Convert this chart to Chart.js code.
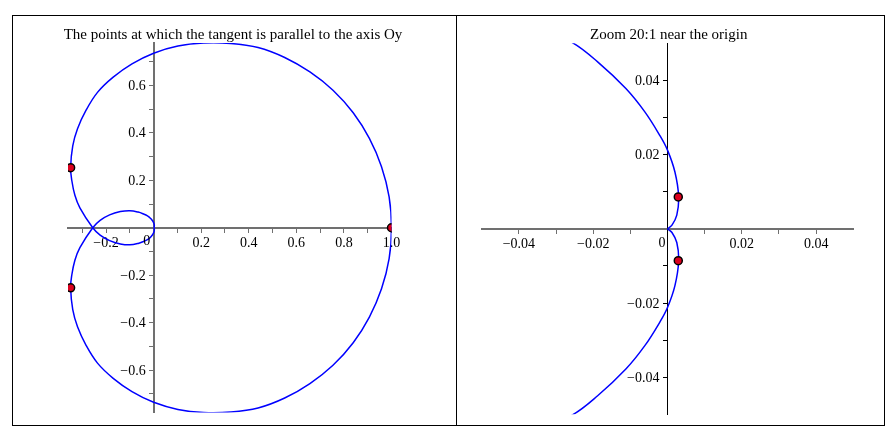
<!DOCTYPE html>
<html><head><meta charset="utf-8">
<script src="https://cdn.jsdelivr.net/npm/chart.js@4.4.1/dist/chart.umd.min.js"></script>
<style>
html,body{margin:0;padding:0;background:#fff;}
body{width:886px;height:435px;position:relative;overflow:hidden;}
.panel{position:absolute;top:15px;border:1px solid #000;height:409px;}
#p1{left:12px;width:443px;}
#p2{left:456px;width:427px;}
canvas{display:block;}
</style></head><body>
<div class="panel" id="p1"><canvas id="c1" width="443" height="409"></canvas></div>
<div class="panel" id="p2"><canvas id="c2" width="427" height="409"></canvas></div>
<script>
// ---- curve, in drawing order ----
// inner loop, upper arc: origin -> self-crossing
const innerUpperX = [0, 0.0012, 0.0025, 0.0030, 0.0020, 0, -0.0021, -0.0061, -0.0112, -0.0188, -0.0258, -0.040, -0.065, -0.100, -0.140, -0.185, -0.225, -0.256];
const innerUpperY = [0, 0.0010, 0.0037, 0.0086, 0.0153, 0.0212, 0.0252, 0.0315, 0.0378, 0.0450, 0.0503, 0.057, 0.066, 0.072, 0.068, 0.054, 0.031, 0];
// outer loop, lower half: crossing -> (1,0)
const outerLowerX = [-0.310, -0.331, -0.344, -0.349, -0.340, -0.320, -0.284, -0.236, -0.170, -0.091, 0.000, 0.102, 0.210, 0.324, 0.439, 0.551, 0.657, 0.754, 0.839, 0.907, 0.958, 0.990, 1.000];
const outerLowerY = [-0.084, -0.137, -0.199, -0.253, -0.345, -0.417, -0.495, -0.570, -0.634, -0.690, -0.735, -0.765, -0.778, -0.776, -0.759, -0.717, -0.656, -0.579, -0.484, -0.376, -0.257, -0.130, 0];
// outer loop, upper half: (1,0) -> crossing
const outerUpperX = [0.990, 0.958, 0.907, 0.839, 0.754, 0.657, 0.551, 0.439, 0.324, 0.210, 0.102, 0.000, -0.091, -0.170, -0.236, -0.284, -0.320, -0.340, -0.349, -0.344, -0.331, -0.310, -0.256];
const outerUpperY = [0.130, 0.257, 0.376, 0.484, 0.579, 0.656, 0.717, 0.759, 0.776, 0.778, 0.765, 0.735, 0.690, 0.634, 0.570, 0.495, 0.417, 0.345, 0.253, 0.199, 0.137, 0.084, 0];
// inner loop, lower arc: crossing -> origin
const innerLowerX = [-0.225, -0.185, -0.140, -0.100, -0.065, -0.040, -0.0258, -0.0188, -0.0112, -0.0061, -0.0021, 0, 0.0020, 0.0030, 0.0025, 0.0012, 0];
const innerLowerY = [-0.031, -0.054, -0.068, -0.072, -0.066, -0.057, -0.0503, -0.0450, -0.0378, -0.0315, -0.0252, -0.0212, -0.0153, -0.0086, -0.0037, -0.0010, 0];

// points with vertical tangent
const markerX = [-0.349, -0.349, 1.0];
const markerY = [0.253, -0.253, 0];
const zoomMarkerX = [0.0029, 0.0029];
const zoomMarkerY = [0.0086, -0.0086];

// ticks
const leftXTicks  = [-0.3, -0.2, -0.1, 0.1, 0.2, 0.3, 0.4, 0.5, 0.6, 0.7, 0.8, 0.9, 1.0];
const leftXLabels = ['', '\u22120.2', '', '', '0.2', '', '0.4', '', '0.6', '', '0.8', '', '1.0'];
const leftYTicks  = [-0.7, -0.6, -0.5, -0.4, -0.3, -0.2, -0.1, 0.1, 0.2, 0.3, 0.4, 0.5, 0.6, 0.7];
const leftYLabels = ['', '\u22120.6', '', '\u22120.4', '', '\u22120.2', '', '', '0.2', '', '0.4', '', '0.6', ''];
const rightTicks  = [-0.04, -0.03, -0.02, -0.01, 0.01, 0.02, 0.03, 0.04];
const rightLabels = ['\u22120.04', '', '\u22120.02', '', '', '0.02', '', '0.04'];

const titles = ['The points at which the tangent is parallel to the axis Oy', 'Zoom 20:1 near the origin'];

// ---- build ----
function pts(xs, ys) { return xs.map((x, i) => ({x: x, y: ys[i]})); }
const curveX = innerUpperX.concat(outerLowerX, outerUpperX, innerLowerX);
const curveY = innerUpperY.concat(outerLowerY, outerUpperY, innerLowerY);

const serif = '"Liberation Serif", "Times New Roman", serif';

const panelText = {
  id: 'panelText',
  afterDraw(chart, args, o) {
    const ctx = chart.ctx;
    ctx.save();
    ctx.fillStyle = '#000';
    ctx.font = '15px ' + serif;
    ctx.textAlign = 'center';
    ctx.textBaseline = 'alphabetic';
    ctx.fillText(o.title, o.titleX, o.titleY);
    ctx.font = '14px ' + serif;
    const xs = chart.scales.x, ys = chart.scales.y;
    const x0 = xs.getPixelForValue(0);
    const y0 = ys.getPixelForValue(0);
    ctx.fillText('0', x0 - o.zeroDx, y0 + o.zeroDy);
    // y-axis tick labels, left of the axis
    ctx.textAlign = 'right';
    ctx.textBaseline = 'middle';
    o.yTicks.forEach((v, i) => {
      if (o.yLabels[i]) ctx.fillText(o.yLabels[i], x0 - 8, ys.getPixelForValue(v) + 1);
    });
    ctx.restore();
  }
};

function scale(vals, labels, min, max, color, width, pos, showLabels) {
  return {
    type: 'linear', min: min, max: max, position: pos,
    afterBuildTicks: s => { s.ticks = vals.map(v => ({value: v})); },
    afterFit: s => { if (s.isHorizontal()) s.height = 0; else s.width = 0; },
    ticks: {
      display: showLabels,
      autoSkip: false, maxRotation: 0, minRotation: 0, padding: 3, color: '#000',
      font: {family: serif, size: 14},
      callback: (v, i) => labels[i]
    },
    grid: {display: true, drawOnChartArea: false, drawTicks: true, tickLength: 4, tickColor: color, tickWidth: 1},
    border: {display: true, color: color, width: width}
  };
}

function makeChart(id, markers, xs, ys, pad, text) {
  return new Chart(document.getElementById(id), {
    type: 'line',
    data: {
      datasets: [
        {data: markers, showLine: false, pointRadius: 4, pointHoverRadius: 4,
         pointBackgroundColor: 'rgb(220,0,30)', pointBorderColor: '#000', pointBorderWidth: 1.5, order: 0},
        {data: pts(curveX, curveY), showLine: true, borderColor: '#0000ff', borderWidth: 1.5,
         pointRadius: 0, pointHoverRadius: 0, tension: 0.38,
         capBezierPoints: false, fill: false, order: 1}
      ]
    },
    plugins: [panelText],
    options: {
      responsive: false, animation: false, devicePixelRatio: 1,
      events: [],
      layout: {padding: pad},
      plugins: {legend: {display: false}, tooltip: {enabled: false}, title: {display: false}, panelText: text},
      scales: {x: xs, y: ys}
    }
  });
}

makeChart('c1', pts(markerX, markerY),
  scale(leftXTicks, leftXLabels, -0.36, 1.0, 'rgb(112,112,112)', 2, {y: 0}, true),
  scale(leftYTicks, leftYLabels, -0.778, 0.778, 'rgb(112,112,112)', 2, {x: 0}, false),
  {left: 55, right: 64.5, top: 27, bottom: 12.5},
  {title: titles[0], titleX: 220, titleY: 23, zeroDx: 7, zeroDy: 17, yTicks: leftYTicks, yLabels: leftYLabels});

makeChart('c2', pts(zoomMarkerX, zoomMarkerY),
  scale(rightTicks, rightLabels, -0.05, 0.05, 'rgb(112,112,112)', 2, {y: 0}, true),
  scale(rightTicks, rightLabels, -0.05, 0.05, '#000', 1, {x: 0}, false),
  {left: 24.7, right: 30.7, top: 27.3, bottom: 10.7},
  {title: titles[1], titleX: 211.7, titleY: 23, zeroDx: 5.5, zeroDy: 18, yTicks: rightTicks, yLabels: rightLabels});
</script></body></html>
